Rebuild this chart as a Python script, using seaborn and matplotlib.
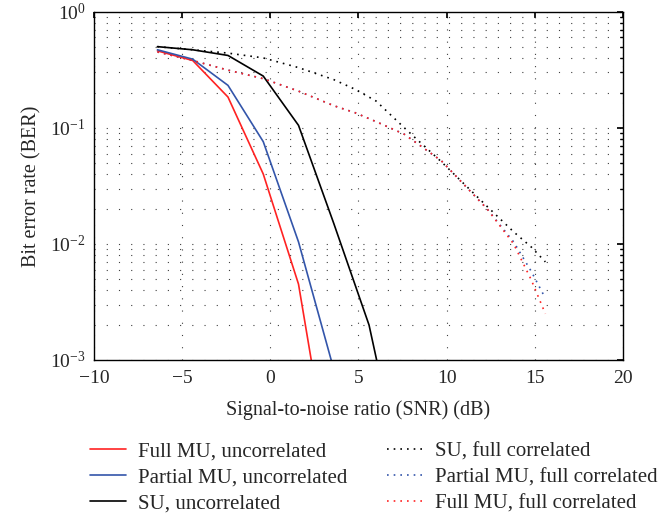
import matplotlib
matplotlib.use("Agg")
import matplotlib.pyplot as plt
import pandas as pd
import seaborn as sns
from matplotlib.ticker import LogLocator, FixedLocator

# SNR sample points (dB)
snr_solid = [-6.4, -4.4, -2.4, -0.4, 1.6, 3.6, 5.6, 7.6]
ber_full_mu_unc = [0.46, 0.38, 0.184, 0.040, 0.0045, 0.00007, None, None]
ber_partial_mu_unc = [0.47, 0.39, 0.232, 0.076, 0.0104, 0.00083, 0.00006, None]
ber_su_unc = [0.50, 0.47, 0.42, 0.279, 0.105, 0.015, 0.0020, 0.00008]

snr_dotted = [-6.4, -4.4, -2.4, -0.4, 1.6, 3.6, 4.8, 6.0, 7.6, 9.7, 12.3, 13.8, 14.8, 15.6]
ber_su_full = [0.50, 0.47, 0.44, 0.40, 0.33, 0.26, 0.215, 0.17, 0.10, 0.051, 0.021, 0.0127, 0.0094, 0.0070]
ber_partial_full = [0.45, 0.38, 0.314, 0.265, 0.207, 0.155, 0.135, 0.113, 0.088, 0.052, 0.020, 0.0104, 0.0058, 0.0034]
ber_full_full = [0.45, 0.38, 0.314, 0.265, 0.207, 0.155, 0.135, 0.113, 0.088, 0.052, 0.020, 0.0100, 0.0049, 0.0025]

labels = [
    "Full MU, uncorrelated",
    "Partial MU, uncorrelated",
    "SU, uncorrelated",
    "SU, full correlated",
    "Partial MU, full correlated",
    "Full MU, full correlated",
]
colors = ["#ff2222", "#3355aa", "black", "black", "#3355aa", "#ff2222"]


def build_frame() -> pd.DataFrame:
    series = [
        (snr_solid, ber_full_mu_unc),
        (snr_solid, ber_partial_mu_unc),
        (snr_solid, ber_su_unc),
        (snr_dotted, ber_su_full),
        (snr_dotted, ber_partial_full),
        (snr_dotted, ber_full_full),
    ]
    rows = []
    for label, (xs, ys) in zip(labels, series):
        for x, y in zip(xs, ys):
            if y is not None:
                rows.append({"snr": x, "ber": y, "series": label})
    return pd.DataFrame(rows)


def main() -> None:
    sns.set_theme(style="white")
    plt.rcParams["font.family"] = ["Liberation Serif", "DejaVu Serif"]
    plt.rcParams["mathtext.fontset"] = "stix"
    plt.rcParams["xtick.direction"] = "in"
    plt.rcParams["ytick.direction"] = "in"

    df = build_frame()
    fig = plt.figure(figsize=(6.59, 5.25), dpi=100)
    ax = fig.add_axes([0.1426, 0.3143, 0.8027, 0.6634])

    dashes = {lab: "" if i < 3 else (1, 3) for i, lab in enumerate(labels)}
    sns.lineplot(
        data=df, x="snr", y="ber", hue="series", style="series",
        hue_order=labels, style_order=labels,
        palette=dict(zip(labels, colors)), dashes=dashes,
        sort=False, linewidth=1.2, ax=ax,
    )
    ax.set_yscale("log")
    ax.set_xlim(-10, 20)
    ax.set_ylim(1e-3, 1)
    ax.xaxis.set_major_locator(FixedLocator([-10, -5, 0, 5, 10, 15, 20]))
    ax.yaxis.set_major_locator(LogLocator(base=10))
    ax.yaxis.set_minor_locator(LogLocator(base=10, subs=range(2, 10)))
    ax.tick_params(which="both", top=True, right=True, labelsize=14, color="black", pad=6)
    ax.tick_params(axis="x", pad=7)
    ax.tick_params(which="major", length=4)
    ax.tick_params(which="minor", length=2.5)
    grid_style = dict(color="0.25", linestyle=(0, (1, 10)), linewidth=0.8)
    ax.grid(which="major", axis="both", **grid_style)
    ax.grid(which="minor", axis="y", **grid_style)
    for s in ax.spines.values():
        s.set_color("black")
        s.set_linewidth(1.0)
    ax.set_xlabel("Signal-to-noise ratio (SNR) (dB)", fontsize=14.5, labelpad=10)
    ax.set_ylabel("Bit error rate (BER)", fontsize=14.5, labelpad=6)

    handles, labs = ax.get_legend_handles_labels()
    ax.legend(
        handles, labs, ncol=2, frameon=False, fontsize=15,
        loc="upper left", bbox_to_anchor=(0.137, 0.158),
        bbox_transform=fig.transFigure, borderpad=0, borderaxespad=0,
        handlelength=1.7, handletextpad=0.6, columnspacing=1.9, labelspacing=0.3,
    )
    fig.savefig("out.png", dpi=100)
    plt.close(fig)


if __name__ == "__main__":
    main()
